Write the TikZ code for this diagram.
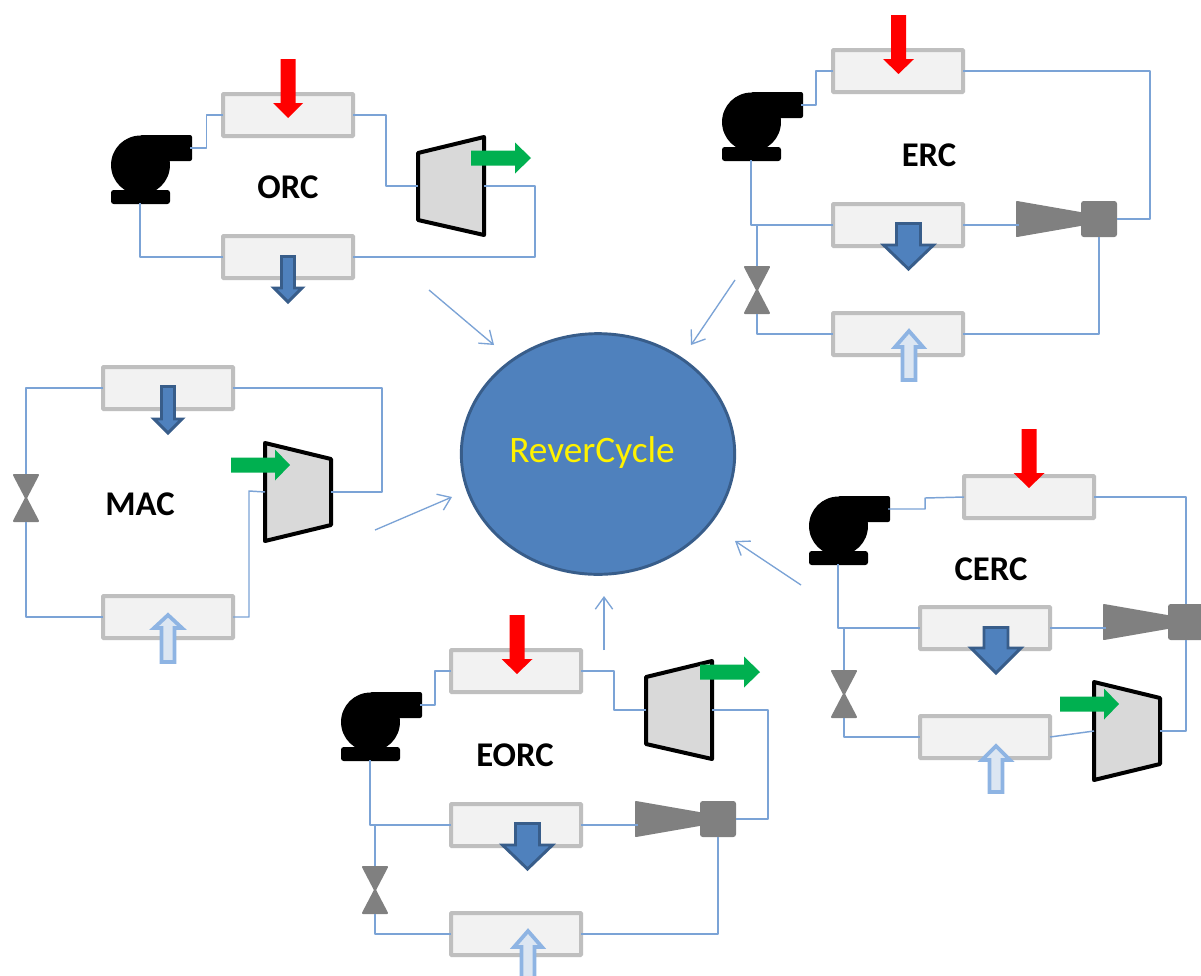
\documentclass[tikz,border=0pt]{standalone}
\usepackage{fontspec}
\setmainfont{Carlito}
\usetikzlibrary{shapes.geometric,arrows.meta}
\definecolor{pipeblue}{HTML}{7BA3D6}
\definecolor{hxedge}{HTML}{BFBFBF}
\definecolor{hxfill}{HTML}{F2F2F2}
\definecolor{devgrey}{HTML}{808080}
\definecolor{turbfill}{HTML}{D9D9D9}
\definecolor{bluefill}{HTML}{4F81BD}
\definecolor{blueedge}{HTML}{385D8A}
\definecolor{lightfill}{HTML}{DCE6F2}
\definecolor{lightedge}{HTML}{8EB4E3}
\definecolor{greenarrow}{HTML}{00B050}
\tikzset{
  pipe/.style={draw=pipeblue,line width=1.1pt,line join=round},
  hxbox/.style={rectangle,draw=hxedge,fill=hxfill,line width=3pt,rounded corners=0.5pt,minimum width=97.5pt,minimum height=31.5pt,inner sep=0pt,outer sep=0pt},
  hot/.style={fill=red},
  cold/.style={fill=bluefill,draw=blueedge,line width=2.2pt,line join=miter},
  coolin/.style={fill=lightfill,draw=lightedge,line width=2.8pt,line join=miter},
  work/.style={fill=greenarrow},
  machine/.style={fill=turbfill,draw=black,line width=3pt,line join=round},
  greydev/.style={fill=devgrey,draw=devgrey,line width=1.5pt,line join=round},
  cyclelabel/.style={font=\fontsize{26}{30}\selectfont\bfseries,text=black,inner sep=0pt},
  link/.style={draw=pipeblue,line width=1pt,-{Straight Barb[length=9pt,width=13pt,line width=1pt]}}
}
% heat exchanger
\newcommand{\hxat}[3]{\node[hxbox] (#1) at (#2,#3) {};}
% pump: top-left corner of its extent
\newcommand{\pumpat}[3]{%
  \fill[black,rounded corners=1.5pt] (#2+29,#3) rectangle (#2+81,#3+26);
  \fill[black] (#2+29.5,#3+30) circle[x radius=22.1pt,y radius=22.1pt];
  \fill[black,rounded corners=2pt] (#2,#3+55) rectangle (#2+59,#3+69);
  \coordinate (#1-out) at (#2+79,#3+13);
  \coordinate (#1-base) at (#2+29,#3+68);}
% valve: centre x, top y
\newcommand{\valveat}[3]{%
  \filldraw[greydev] (#2-12,#3+1) -- (#2+12,#3+1) -- (#2-12,#3+47) -- (#2+12,#3+47) -- cycle;
  \coordinate (#1-top) at (#2,#3);
  \coordinate (#1-bot) at (#2,#3+48);}
% ejector: left x, centre y
\newcommand{\ejectorat}[3]{%
  \filldraw[greydev] (#2+1,#3-17) -- (#2+70,#3-5) -- (#2+70,#3+5) -- (#2+1,#3+17) -- cycle;
  \fill[devgrey,rounded corners=2pt] (#2+65,#3-18) rectangle (#2+101,#3+18);
  \coordinate (#1-in) at (#2+3,#3+6);
  \coordinate (#1-east) at (#2+101,#3);
  \coordinate (#1-north) at (#2+83,#3-18);
  \coordinate (#1-south) at (#2+83,#3+18);}
% expander, narrow side left
\newcommand{\expanderat}[3]{%
  \filldraw[machine] (#2,#3+16) -- (#2+66,#3) -- (#2+66,#3+98) -- (#2,#3+83) -- cycle;
  \coordinate (#1-in) at (#2,#3+49);
  \coordinate (#1-out) at (#2+66,#3+49);}
% compressor, narrow side right
\newcommand{\compressorat}[3]{%
  \filldraw[machine] (#2,#3) -- (#2+66,#3+16) -- (#2+66,#3+82) -- (#2,#3+98) -- cycle;
  \coordinate (#1-in) at (#2,#3+49);
  \coordinate (#1-out) at (#2+66,#3+49);}
% vertical block arrow: style, cx, half shaft, half head, y start, y head base, y tip
\newcommand{\blockv}[7]{\path[#1] (#2-#3,#5) -- (#2+#3,#5) -- (#2+#3,#6) -- (#2+#4,#6) -- (#2,#7) -- (#2-#4,#6) -- (#2-#3,#6) -- cycle;}
% horizontal block arrow: style, cy, half shaft, half head, x start, x head base, x tip
\newcommand{\blockh}[7]{\path[#1] (#5,#2-#3) -- (#5,#2+#3) -- (#6,#2+#3) -- (#6,#2+#4) -- (#7,#2) -- (#6,#2-#4) -- (#6,#2-#3) -- cycle;}
\begin{document}
\begin{tikzpicture}[x=0.75pt,y=-0.75pt]
\clip (0,0) rectangle (1201,975);
\fill[white] (0,0) rectangle (1201,975);

% central node
\node[ellipse,draw=blueedge,fill=bluefill,line width=2.2pt,minimum width=205pt,minimum height=180.5pt,inner sep=0pt,outer sep=0pt] (rev) at (598,454) {};
\node[text=yellow,font=\fontsize{28}{32}\selectfont,inner sep=0pt] (revtext) at (592,453) {ReverCycle};

% ===== ORC =====
\hxat{orcH}{288}{115}
\hxat{orcC}{288}{257}
\pumpat{orcP}{111}{135}
\expanderat{orcT}{418}{137}
\node[cyclelabel] (orcL) at (288,187) {ORC};
\draw[pipe] (orcP-out) -| (206.5,115) -- (orcH.west);
\draw[pipe] (orcH.east) -| (386,186) -- (orcT-in);
\draw[pipe] (orcT-out) -| (535,257) -- (orcC.east);
\draw[pipe] (orcC.west) -| (orcP-base);
\blockv{hot}{288}{7.5}{15}{59}{103}{118}
\blockv{cold}{288}{6.5}{14}{256.5}{288}{302}
\blockh{work}{158}{7.5}{15.5}{471}{515}{531}

% ===== MAC =====
\hxat{macC}{168}{388}
\hxat{macE}{168}{617}
\compressorat{macK}{265}{443}
\valveat{macV}{26}{474}
\node[cyclelabel] (macL) at (140,504) {MAC};
\draw[pipe] (macC.west) -| (macV-top);
\draw[pipe] (macV-bot) |- (macE.west);
\draw[pipe] (macE.east) -| (249,491) -- (macK-in);
\draw[pipe] (macK-out) -| (382,388) -- (macC.east);
\blockv{cold}{168}{6.5}{14}{386.5}{419}{433}
\blockv{coolin}{168}{6.5}{14}{662}{628}{615}
\blockh{work}{465}{7.5}{15.5}{231}{275}{290}

% ===== ERC =====
\hxat{ercH}{898}{71}
\hxat{ercC}{898}{225}
\hxat{ercE}{898}{334}
\pumpat{ercP}{722}{92}
\valveat{ercV}{757}{266}
\ejectorat{ercJ}{1016}{219}
\coordinate (ercS) at (757,225);
\node[cyclelabel] (ercL) at (929,155) {ERC};
\draw[pipe] (ercP-out) -| (816,71) -- (ercH.west);
\draw[pipe] (ercH.east) -| (1150,219) -- (ercJ-east);
\draw[pipe] (ercP-base) |- (ercC.west);
\draw[pipe] (ercS) -- (ercV-top);
\draw[pipe] (ercV-bot) |- (ercE.west);
\draw[pipe] (ercE.east) -| (ercJ-south);
\draw[pipe] (ercC.east) -- (ercJ-in);
\blockv{hot}{898.5}{7.5}{15.5}{15}{59}{74}
\blockv{cold}{908.5}{12}{25}{223.5}{245}{269}
\blockv{coolin}{909}{6.5}{14}{380}{347}{331}

% ===== CERC =====
\hxat{cercH}{1029}{497}
\hxat{cercC}{985}{628}
\hxat{cercE}{985}{737}
\pumpat{cercP}{809}{496}
\valveat{cercV}{844}{670}
\ejectorat{cercJ}{1103}{622}
\compressorat{cercK}{1094}{682}
\coordinate (cercS) at (844,629);
\node[cyclelabel] (cercL) at (991,569) {CERC};
\draw[pipe] (cercP-out) -| (925,498) -- (cercH.west);
\draw[pipe] (cercH.east) -| (cercJ-north);
\draw[pipe] (cercP-base) |- (cercC.west);
\draw[pipe] (cercS) -- (cercV-top);
\draw[pipe] (cercV-bot) |- (cercE.west);
\draw[pipe] (cercC.east) -- (cercJ-in);
\draw[pipe] (cercE.east) -- (cercK-in);
\draw[pipe] (cercK-out) -| (cercJ-south);
\blockv{hot}{1029}{7.5}{15.5}{429}{473}{488}
\blockv{cold}{996}{12}{25}{627.5}{648}{673}
\blockv{coolin}{996}{6.5}{14}{792}{760}{746}
\blockh{work}{704}{7.5}{15.5}{1060}{1104}{1119}

% ===== EORC =====
\hxat{eorcH}{516}{671}
\hxat{eorcC}{516}{825}
\hxat{eorcE}{516}{934}
\pumpat{eorcP}{341}{692}
\valveat{eorcV}{375}{866}
\ejectorat{eorcJ}{635}{819}
\expanderat{eorcT}{646}{661}
\coordinate (eorcS) at (375,825);
\node[cyclelabel] (eorcL) at (515,755) {EORC};
\draw[pipe] (eorcP-out) -| (435,671) -- (eorcH.west);
\draw[pipe] (eorcH.east) -| (614,710) -- (eorcT-in);
\draw[pipe] (eorcT-out) -| (768,819) -- (eorcJ-east);
\draw[pipe] (eorcP-base) |- (eorcC.west);
\draw[pipe] (eorcS) -- (eorcV-top);
\draw[pipe] (eorcV-bot) |- (eorcE.west);
\draw[pipe] (eorcE.east) -| (eorcJ-south);
\draw[pipe] (eorcC.east) -- (eorcJ-in);
\blockv{hot}{517}{7.5}{15.5}{615}{659}{674}
\blockv{cold}{527.5}{12}{25}{823.5}{845}{869}
\blockv{coolin}{528}{6.5}{14}{985}{947}{931}
\blockh{work}{672}{7.5}{15.5}{700}{744}{760}

% ===== links to the centre =====
\coordinate (aOrc) at (429,290);   \coordinate (tOrc) at (494,345);
\coordinate (aErc) at (735,280);   \coordinate (tErc) at (691,345);
\coordinate (aMac) at (375,530);   \coordinate (tMac) at (452,497);
\coordinate (aCerc) at (801,585);  \coordinate (tCerc) at (735,541);
\coordinate (aEorc) at (604,650);  \coordinate (tEorc) at (604,596);
\draw[link] (aOrc) -- (tOrc);
\draw[link] (aErc) -- (tErc);
\draw[link] (aMac) -- (tMac);
\draw[link] (aCerc) -- (tCerc);
\draw[link] (aEorc) -- (tEorc);
\end{tikzpicture}
\end{document}
